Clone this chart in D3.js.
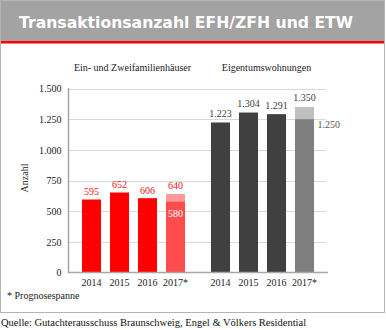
<!DOCTYPE html>
<html><head><meta charset="utf-8">
<script src="https://cdn.jsdelivr.net/npm/d3@7/dist/d3.min.js"></script>
<style>
html,body{margin:0;padding:0;background:#fff;}
svg{display:block;}
text{font-family:"Liberation Serif","Times New Roman",serif;}
</style></head>
<body>
<svg id="chart" width="386" height="330"></svg>
<script>
const title = "Transaktionsanzahl EFH/ZFH und ETW";
const groups = ["Ein- und Zweifamilienhäuser", "Eigentumswohnungen"];
const years = ["2014", "2015", "2016", "2017*"];
const efhValues = [595, 652, 606, 580];
const efhUpper = [null, null, null, 640];
const etwValues = [1223, 1304, 1291, 1250];
const etwUpper = [null, null, null, 1350];
const yTicks = [0, 250, 500, 750, 1000, 1250, 1500];
const yLabel = "Anzahl";
const note = "* Prognosespanne";
const source = "Quelle: Gutachterausschuss Braunschweig, Engel & Völkers Residential";

const fmt = v => d3.format(",")(v).replace(/,/g, ".");

const svg = d3.select("#chart");

// frame
svg.append("rect").attr("x",0.5).attr("y",0.5).attr("width",384).attr("height",312)
  .attr("fill","#fff").attr("stroke","#b4b4b4").attr("stroke-width",1);
// title bar
svg.append("rect").attr("x",1).attr("y",1).attr("width",383).attr("height",40).attr("fill","#a3a3a3");
svg.append("rect").attr("x",1).attr("y",41).attr("width",383).attr("height",2.5).attr("fill","#ff0000");
svg.append("text").attr("x",19).attr("y",28).attr("fill","#fff")
  .style("font-family","'DejaVu Sans',sans-serif").style("font-size","15.5px").style("font-weight","bold")
  .attr("textLength",334).attr("lengthAdjust","spacingAndGlyphs")
  .text(title);

const y = d3.scaleLinear().domain([0,1500]).range([272.5,88.5]);
const xGroup = d3.scaleBand().domain(groups).range([77.5,318.5]).paddingInner(17/129).paddingOuter(0);
const xYear = d3.scaleBand().domain(years).range([0,xGroup.bandwidth()]).paddingInner(0.32).paddingOuter(0.16);

// gridlines
svg.append("g").selectAll("line").data(yTicks.filter(d=>d>0)).join("line")
  .attr("x1",69).attr("x2",326).attr("y1",d=>Math.round(y(d))+0.5).attr("y2",d=>Math.round(y(d))+0.5)
  .attr("stroke","#d9d9d9").attr("stroke-width",1);

// y axis
const yAxis = d3.axisLeft(y).tickValues(yTicks).tickSize(0).tickPadding(7).tickFormat(fmt);
const ga = svg.append("g").attr("transform","translate(68.5,0)").call(yAxis);
ga.select(".domain").remove();
ga.selectAll("text").style("font-family","'Liberation Serif',serif").style("font-size","10px").attr("fill","#222");

svg.append("text").attr("transform","translate(28,178) rotate(-90)").attr("text-anchor","middle")
  .style("font-size","10px").attr("fill","#222").text(yLabel);

const series = [
  {g: groups[0], vals: efhValues, upper: efhUpper, colors: ["#ff0000","#ff0000","#ff0000","#ff4d4d"], upColor:"#ff9a9a", labelColor:"#e8141b"},
  {g: groups[1], vals: etwValues, upper: etwUpper, colors: ["#404040","#404040","#404040","#7f7f7f"], upColor:"#bfbfbf", labelColor:"#404040"}
];

series.forEach((s, si) => {
  const gg = svg.append("g").attr("transform",`translate(${xGroup(s.g)},0)`);
  const data = years.map((yr,i)=>({yr, v:s.vals[i], up:s.upper[i], c:s.colors[i]}));
  gg.selectAll("rect.up").data(data.filter(d=>d.up!=null)).join("rect").attr("class","up")
    .attr("x",d=>xYear(d.yr)).attr("width",xYear.bandwidth())
    .attr("y",d=>y(d.up)).attr("height",d=>y(d.v)-y(d.up)).attr("fill",s.upColor);
  gg.selectAll("rect.main").data(data).join("rect").attr("class","main")
    .attr("x",d=>xYear(d.yr)).attr("width",xYear.bandwidth())
    .attr("y",d=>y(d.v)).attr("height",d=>y(0)-y(d.v)).attr("fill",d=>d.c);
  // top labels
  gg.selectAll("text.lbl").data(data).join("text").attr("class","lbl")
    .attr("x",d=>xYear(d.yr)+xYear.bandwidth()/2)
    .attr("y",d=>y(d.up!=null?d.up:d.v)-(si===0?4.5:5.5))
    .attr("text-anchor","middle").style("font-size","10px").attr("fill",s.labelColor)
    .text(d=>fmt(d.up!=null?d.up:d.v));
  // lower forecast label
  const f = data.filter(d=>d.up!=null);
  if (si===0) {
    gg.selectAll("text.low").data(f).join("text").attr("class","low")
      .attr("x",d=>xYear(d.yr)+xYear.bandwidth()/2).attr("y",d=>y(d.v)+15.5)
      .attr("text-anchor","middle").style("font-size","10px").attr("fill","#fff").text(d=>fmt(d.v));
  } else {
    gg.selectAll("text.low").data(f).join("text").attr("class","low")
      .attr("x",d=>xYear(d.yr)+xYear.bandwidth()+3.5).attr("y",d=>y(d.v)+9)
      .attr("text-anchor","start").style("font-size","10px").attr("fill","#595959").text(d=>fmt(d.v));
  }
  // x labels
  gg.selectAll("text.yr").data(years).join("text").attr("class","yr")
    .attr("x",d=>xYear(d)+xYear.bandwidth()/2).attr("y",285.5)
    .attr("text-anchor","middle").style("font-size","10px").attr("fill","#222").text(d=>d);
  // group title
  gg.append("text").attr("x",xGroup.bandwidth()/2 + (si===0?-1:4)).attr("y",70.5).attr("text-anchor","middle")
    .style("font-size","10px").attr("fill","#222").text(s.g);
});

// axes lines
svg.append("line").attr("x1",68.5).attr("x2",68.5).attr("y1",88).attr("y2",273).attr("stroke","#a6a6a6").attr("stroke-width",1.5);
svg.append("line").attr("x1",68).attr("x2",328).attr("y1",272.5).attr("y2",272.5).attr("stroke","#a6a6a6").attr("stroke-width",1.5);

svg.append("text").attr("x",7).attr("y",299).style("font-size","10px").attr("fill","#222").text(note);
svg.append("text").attr("x",1).attr("y",326).style("font-size","10.5px").attr("fill","#111").text(source);
</script>
</body></html>
